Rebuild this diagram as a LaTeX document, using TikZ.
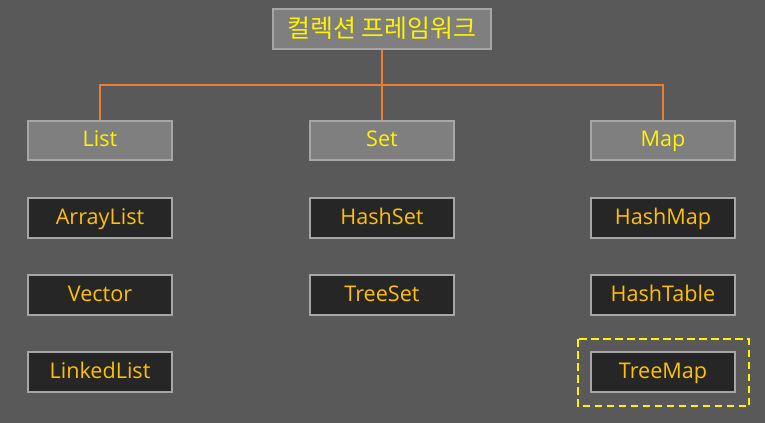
\documentclass[tikz,border=0pt]{standalone}
\usepackage{fontspec}
\setmainfont{Open Sans}
\newfontfamily\kofont{Noto Sans CJK KR}
\usetikzlibrary{positioning}
\definecolor{bgcol}{HTML}{595959}
\definecolor{headfill}{HTML}{7F7F7F}
\definecolor{boxfill}{HTML}{262626}
\definecolor{edgecol}{HTML}{A6A6A6}
\definecolor{linkcol}{HTML}{ED7D31}
\definecolor{gold}{HTML}{FFC000}
\tikzset{>=latex}
\tikzstyle{head}=[draw=edgecol,fill=headfill,line width=1.5pt,text=yellow,minimum width=108pt,minimum height=29.5pt,inner sep=0pt,text height=11.7pt,text depth=2.3pt,font=\fontsize{16.2}{18}\selectfont]
\tikzstyle{impl}=[head,fill=boxfill,text=gold]
\tikzstyle{link}=[linkcol,line width=0.85pt]

\begin{document}
\begin{tikzpicture}[x=0.75pt,y=-0.75pt]
  
  \fill[bgcol] (0,0) rectangle (765,423); % background
  \useasboundingbox (0,0) rectangle (765,423);
  
  \node[head,minimum width=164pt,text height=14.5pt,text depth=1.5pt,font=\kofont\fontsize{18.7}{20}\selectfont] (top) at (382,29) {컬렉션 프레임워크};
  \coordinate (bus) at (382,85);
  
  \node[head] (list) at (100,140.5) {List};
  \node[head] (set) at (382,140.5) {Set};
  \node[head] (map) at (663,140.5) {Map};
  
  \node[impl] (arraylist) at (100,218) {ArrayList};
  \node[impl] (vector) at (100,295) {Vector};
  \node[impl] (linkedlist) at (100,372) {LinkedList};
  
  \node[impl] (hashset) at (382,218) {HashSet};
  \node[impl] (treeset) at (382,295) {TreeSet};
  
  \node[impl] (hashmap) at (663,218) {HashMap};
  \node[impl] (hashtable) at (663,295) {HashTable};
  \node[impl] (treemap) at (663,372) {TreeMap};
  
  \draw[link] (top.south) -- (set.north);
  \draw[link] (list.north) -- (list.north |- bus) -- (map.north |- bus) -- (map.north);
  
  \draw[yellow,line width=1.5pt,dash pattern=on 5.5pt off 3.5pt] % highlight
    (577.5,339.5) rectangle (749,406.5);
  
\end{tikzpicture}
\end{document}
